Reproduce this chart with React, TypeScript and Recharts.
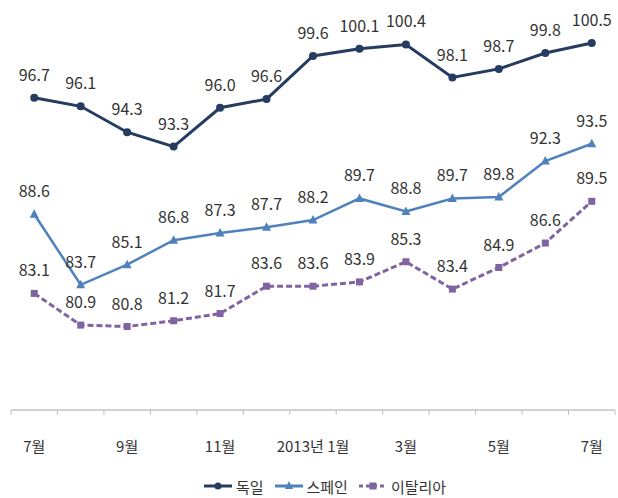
import React from "react";
import { LineChart, Line, XAxis, YAxis, LabelList, Legend } from "recharts";

const months = ["7월", "8월", "9월", "10월", "11월", "12월", "2013년 1월", "2월", "3월", "4월", "5월", "6월", "7월"];
const germany = [96.7, 96.1, 94.3, 93.3, 96.0, 96.6, 99.6, 100.1, 100.4, 98.1, 98.7, 99.8, 100.5];
const spain = [88.6, 83.7, 85.1, 86.8, 87.3, 87.7, 88.2, 89.7, 88.8, 89.7, 89.8, 92.3, 93.5];
const italy = [83.1, 80.9, 80.8, 81.2, 81.7, 83.6, 83.6, 83.9, 85.3, 83.4, 84.9, 86.6, 89.5];

const C_DE = "#253b5f";
const C_ES = "#4f81bd";
const C_IT = "#8064a2";
const FONT = "'Liberation Sans Narrow', 'Noto Sans CJK KR', sans-serif";

const data = months.map((m, i) => ({ i, m, de: germany[i], es: spain[i], it: italy[i] }));

// boundaries get tick marks, even months get a label
const ticks: number[] = [];
for (let k = 0; k <= months.length; k++) ticks.push(k - 0.5);
for (let k = 0; k < months.length; k += 2) ticks.push(k);
ticks.sort((a, b) => a - b);

function AxisTick(props: any) {
  const { x, y, payload } = props;
  const v = payload.value as number;
  if (!Number.isInteger(v)) {
    return <line x1={x} x2={x} y1={y} y2={y + 5} stroke="#bfbfbf" strokeWidth={1} />;
  }
  return (
    <text x={x} y={y + 35} textAnchor="middle" dominantBaseline="central" fontFamily={FONT} fontSize={15} fill="#333">
      {months[v]}
    </text>
  );
}

const valueLabel = (props: any) => {
  const { x, y, value } = props;
  return (
    <text x={x} y={y - 24} textAnchor="middle" dominantBaseline="central" fontFamily={FONT} fontSize={16} fill="#333">
      {Number(value).toFixed(1)}
    </text>
  );
};

const circleDot = (p: any) => <circle key={p.index} cx={p.cx} cy={p.cy} r={4} fill={C_DE} />;
const triDot = (p: any) => (
  <path key={p.index} d={`M${p.cx},${p.cy - 5} L${p.cx + 4.5},${p.cy + 3.5} L${p.cx - 4.5},${p.cy + 3.5} Z`} fill={C_ES} />
);
const squareDot = (p: any) => <rect key={p.index} x={p.cx - 3.5} y={p.cy - 3.5} width={7} height={7} fill={C_IT} />;

const legendItems = [
  { name: "독일", color: C_DE, mark: "circle", dash: undefined },
  { name: "스페인", color: C_ES, mark: "tri", dash: undefined },
  { name: "이탈리아", color: C_IT, mark: "square", dash: "4 3" },
];

function LegendContent() {
  return (
    <div style={{ display: "flex", justifyContent: "center", alignItems: "center", gap: 11, height: 24, paddingLeft: 24, fontFamily: FONT, fontSize: 15, color: "#333" }}>
      {legendItems.map((it) => (
        <div key={it.name} style={{ display: "flex", alignItems: "center", gap: 4 }}>
          <svg width={28} height={12}>
            <line x1={0} x2={28} y1={6} y2={6} stroke={it.color} strokeWidth={3} strokeDasharray={it.dash} />
            {it.mark === "circle" && <circle cx={14} cy={6} r={3.5} fill={it.color} />}
            {it.mark === "tri" && <path d="M14,1 L18,9 L10,9 Z" fill={it.color} />}
            {it.mark === "square" && <rect x={10.5} y={2.5} width={7} height={7} fill={it.color} />}
          </svg>
          <span>{it.name}</span>
        </div>
      ))}
    </div>
  );
}

export default function App() {
  return (
    <div style={{ position: "absolute", left: 0, top: 0, background: "#fff" }}>
      <LineChart width={618} height={498} data={data} margin={{ top: 7, right: 3, bottom: 0, left: 11 }}>
        <XAxis
          dataKey="i"
          type="number"
          domain={[-0.5, 12.5]}
          ticks={ticks}
          interval={0}
          tickLine={false}
          tickSize={0}
          tickMargin={0}
          tick={<AxisTick />}
          axisLine={{ stroke: "#a6a6a6" }}
          height={64}
        />
        <YAxis hide domain={[75, 103]} />
        <Legend verticalAlign="bottom" height={24} content={<LegendContent />} />
        <Line dataKey="de" stroke={C_DE} strokeWidth={3} dot={circleDot} isAnimationActive={false}>
          <LabelList dataKey="de" content={valueLabel} />
        </Line>
        <Line dataKey="es" stroke={C_ES} strokeWidth={2.5} dot={triDot} isAnimationActive={false}>
          <LabelList dataKey="es" content={valueLabel} />
        </Line>
        <Line dataKey="it" stroke={C_IT} strokeWidth={3} strokeDasharray="6 3" dot={squareDot} isAnimationActive={false}>
          <LabelList dataKey="it" content={valueLabel} />
        </Line>
      </LineChart>
    </div>
  );
}
